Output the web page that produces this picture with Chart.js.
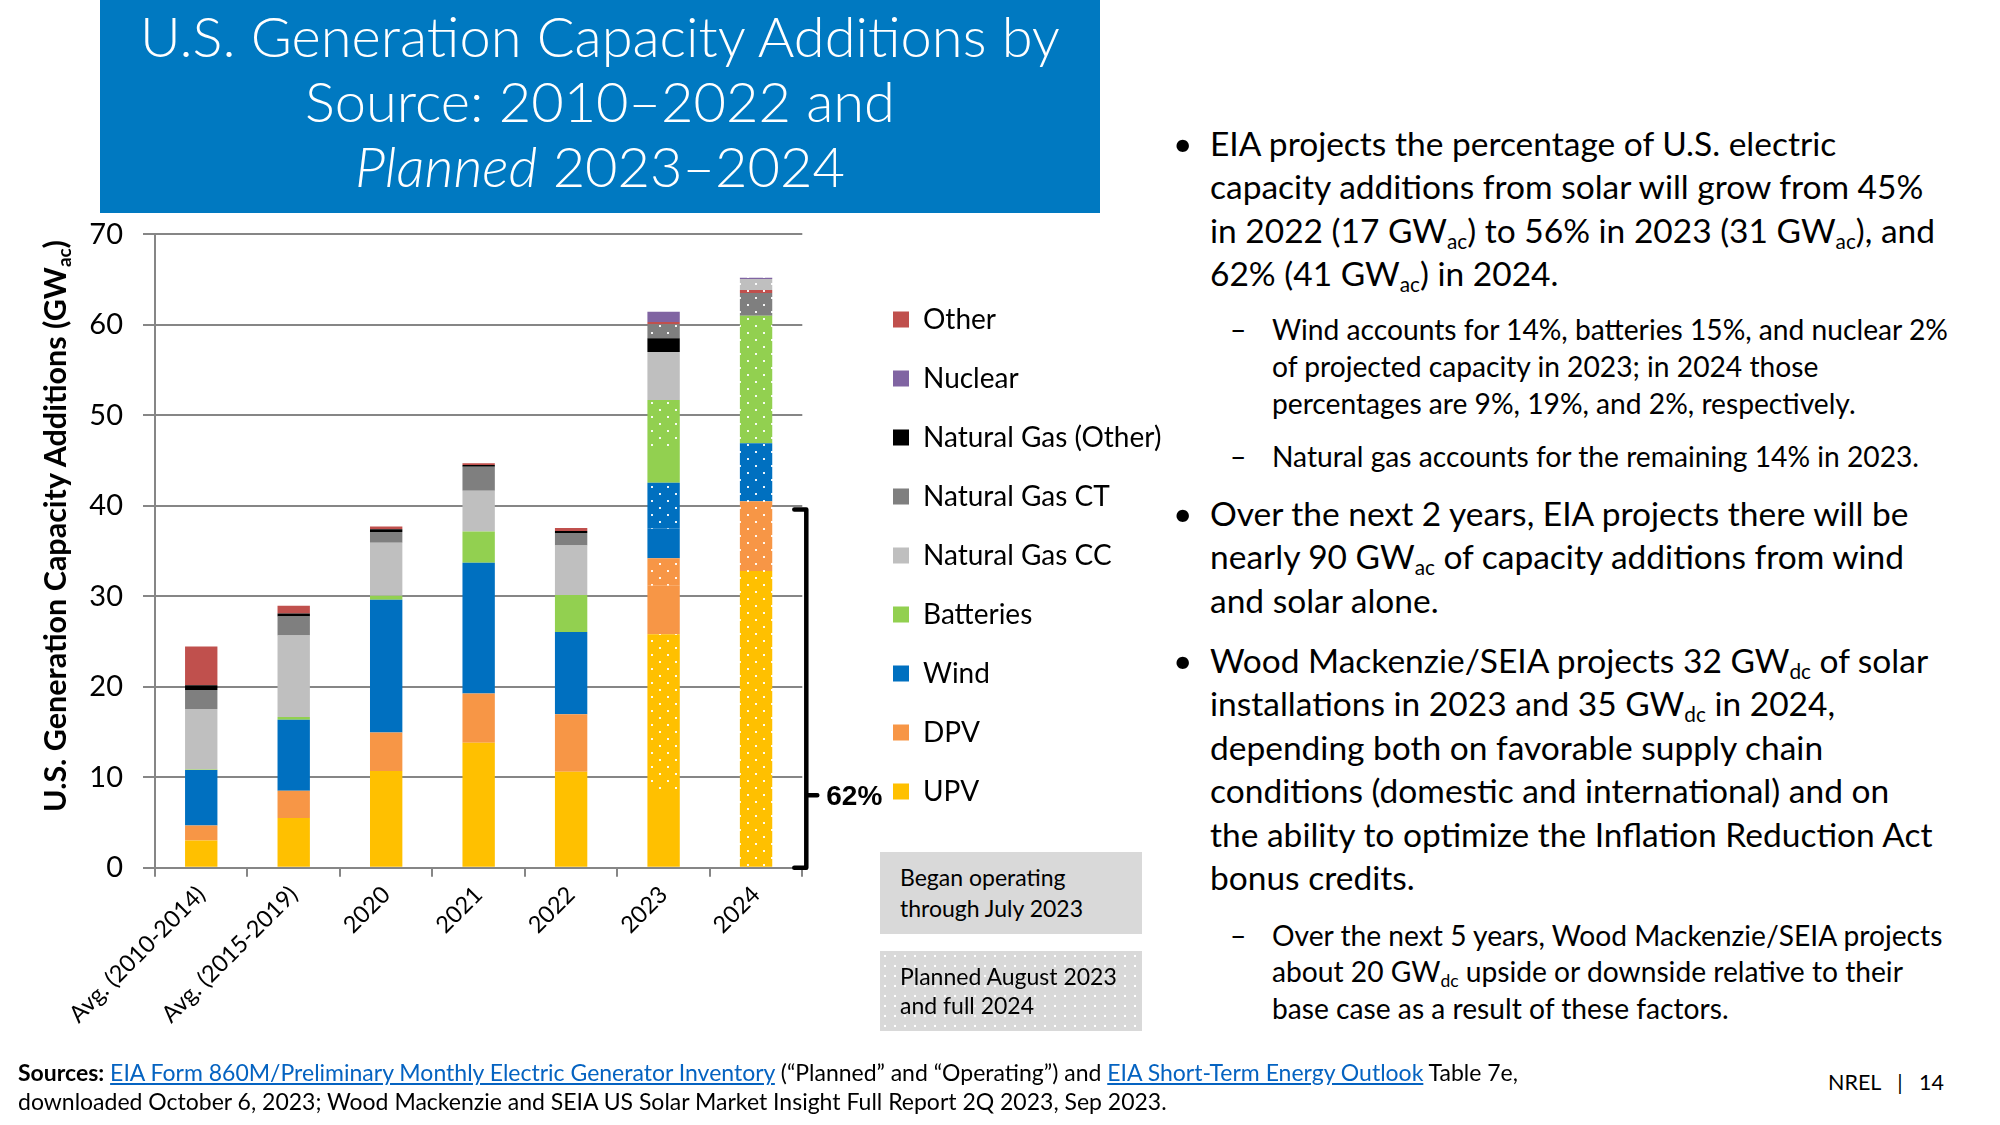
<!DOCTYPE html>
<html><head><meta charset="utf-8">
<script src="https://cdn.jsdelivr.net/npm/chart.js@4.4.0/dist/chart.umd.min.js"></script>
<style>
html,body{margin:0;padding:0;background:#fff;}
body{width:2000px;height:1125px;position:relative;overflow:hidden;font-family:Lato,"Open Sans",sans-serif;color:#000;}
#titlebox{position:absolute;left:100px;top:0;width:1000px;height:213px;background:#0079C1;color:#fff;}
#titlebox .t{position:absolute;left:0;top:3px;width:100%;text-align:center;font-weight:300;font-size:56px;line-height:65px;white-space:nowrap;}
#chartwrap{position:absolute;left:0;top:0;width:1200px;height:1125px;}
#ytitle{position:absolute;left:-296px;top:506px;width:700px;height:40px;line-height:40px;text-align:center;transform:rotate(-90deg);font-weight:bold;font-size:30.5px;white-space:nowrap;}
sub{font-size:0.62em;vertical-align:-0.28em;line-height:0;}
.p{position:absolute;white-space:nowrap;}
.b1{font-size:33.5px;line-height:43.4px;left:1210px;}
.s1{font-size:28.2px;line-height:37px;left:1272px;}
.bul{position:absolute;left:-37px;top:0;}
.dash{position:absolute;left:-42px;top:0;}
.box{position:absolute;left:880px;width:262px;font-size:23px;background:#D9D9D9;}
.box .tx{position:absolute;left:20px;white-space:nowrap;}
#box2{background-color:#D9D9D9;background-image:radial-gradient(circle,#ffffff 1.1px,rgba(255,255,255,0) 1.6px);background-size:10px 10px;}
#src{position:absolute;left:18px;top:1058px;font-size:23px;line-height:29px;white-space:nowrap;}
#src a{color:#0563C1;text-decoration:underline;}
#pg{position:absolute;left:1828px;top:1068px;font-size:21.5px;line-height:28px;white-space:nowrap;}
</style></head>
<body>
<div id="titlebox"><div class="t">U.S. Generation Capacity Additions by<br>Source: 2010–2022 and<br><i>Planned</i> 2023–2024</div></div>
<div id="chartwrap"><canvas id="c"></canvas></div>
<div id="ytitle">U.S. Generation Capacity Additions (GW<sub>ac</sub>)</div>

<div class="p b1" style="top:122px"><span class="bul">•</span>EIA projects the percentage of U.S. electric<br>capacity additions from solar will grow from 45%<br>in 2022 (17 GW<sub>ac</sub>) to 56% in 2023 (31 GW<sub>ac</sub>), and<br>62% (41 GW<sub>ac</sub>) in 2024.</div>
<div class="p s1" style="top:311px"><span class="dash">–</span>Wind accounts for 14%, batteries 15%, and nuclear 2%<br>of projected capacity in 2023; in 2024 those<br>percentages are 9%, 19%, and 2%, respectively.</div>
<div class="p s1" style="top:438px"><span class="dash">–</span>Natural gas accounts for the remaining 14% in 2023.</div>
<div class="p b1" style="top:492px"><span class="bul">•</span>Over the next 2 years, EIA projects there will be<br>nearly 90 GW<sub>ac</sub> of capacity additions from wind<br>and solar alone.</div>
<div class="p b1" style="top:639px"><span class="bul">•</span>Wood Mackenzie/SEIA projects 32 GW<sub>dc</sub> of solar<br>installations in 2023 and 35 GW<sub>dc</sub> in 2024,<br>depending both on favorable supply chain<br>conditions (domestic and international) and on<br>the ability to optimize the Inflation Reduction Act<br>bonus credits.</div>
<div class="p s1" style="top:917px;line-height:36.3px"><span class="dash">–</span>Over the next 5 years, Wood Mackenzie/SEIA projects<br>about 20 GW<sub>dc</sub> upside or downside relative to their<br>base case as a result of these factors.</div>

<div class="box" id="box1" style="top:852px;height:82px;"><div class="tx" style="top:10px;line-height:30.5px">Began operating<br>through July 2023</div></div>
<div class="box" id="box2" style="top:951px;height:80px;"><div class="tx" style="top:11px;line-height:29px">Planned August 2023<br>and full 2024</div></div>

<div id="src"><b>Sources:</b> <a>EIA Form 860M/Preliminary Monthly Electric Generator Inventory</a> (“Planned” and “Operating”) and <a>EIA Short-Term Energy Outlook</a> Table 7e,<br>downloaded October 6, 2023; Wood Mackenzie and SEIA US Solar Market Insight Full Report 2Q 2023, Sep 2023.</div>
<div id="pg">NREL &nbsp;&nbsp;|&nbsp;&nbsp; 14</div>

<script>
// ---- data (GWac) ----
const categories = ['Avg. (2010-2014)','Avg. (2015-2019)','2020','2021','2022','2023','2024'];
// operating (solid) and planned (dotted) values
const upvOp      = [3.0, 5.5, 10.7, 13.8, 10.6, 8.7, 0];
const upvPlan    = [0, 0, 0, 0, 0, 17.1, 32.8];
const dpvOp      = [1.65, 3.0, 4.25, 5.45, 6.35, 5.35, 0];
const dpvPlan    = [0, 0, 0, 0, 0, 3.05, 7.7];
const windOp     = [6.15, 7.85, 14.65, 14.45, 9.1, 3.25, 0];
const windPlan   = [0, 0, 0, 0, 0, 5.1, 6.4];
const battOp     = [0.05, 0.3, 0.45, 3.45, 4.1, 3.95, 0];
const battPlan   = [0, 0, 0, 0, 0, 5.2, 14.1];
const ngccOp     = [6.7, 9.0, 5.85, 4.5, 5.45, 5.3, 0];
const ngctOp     = [2.1, 2.1, 1.2, 2.65, 1.4, 0, 0];
const ngOtherOp  = [0.5, 0.35, 0.3, 0.2, 0.2, 1.5, 0];
const ngctPlan   = [0, 0, 0, 0, 0, 1.55, 2.5];
const otherOp    = [4.3, 0.85, 0.3, 0.2, 0.35, 0.25, 0];
const otherPlan  = [0, 0, 0, 0, 0, 0, 0.35];
const ngccPlan   = [0, 0, 0, 0, 0, 0, 1.2];
const nuclearOp  = [0, 0, 0, 0, 0, 1.15, 0];
const nuclearPlan= [0, 0, 0, 0, 0, 0, 0.15];
const legendNames = ['Other','Nuclear','Natural Gas (Other)','Natural Gas CT','Natural Gas CC','Batteries','Wind','DPV','UPV'];
const yTicksMax = 70, yTickStep = 10;
const bracketTop = 39.6, bracketLabelAt = 8.0, bracketLabel = '62%';

// ---- styles ----
const COL = {UPV:'#FFC000', DPV:'#F79646', Wind:'#0070C0', Batteries:'#92D050', 'Natural Gas CC':'#BFBFBF',
  'Natural Gas CT':'#7F7F7F', 'Natural Gas (Other)':'#000000', Other:'#C0504D', Nuclear:'#8064A2'};
const FONT = 'Lato';

const canvas = document.getElementById('c');
const ctx = canvas.getContext('2d');
function dotted(color){
  const p = document.createElement('canvas'); p.width = 16; p.height = 14;
  const g = p.getContext('2d');
  g.fillStyle = color; g.fillRect(0,0,16,14);
  g.fillStyle = 'rgba(255,255,255,0.92)';
  g.fillRect(3,3,2,2); g.fillRect(11,10,2,2);
  return ctx.createPattern(p,'repeat');
}
function ds(label, data, key, planned){
  return {label, data, backgroundColor: planned ? dotted(COL[key]) : COL[key], borderWidth:0,
          categoryPercentage:1.0, barPercentage:0.35, _key:key};
}
const datasets = [
  ds('UPV (operating)', upvOp, 'UPV', false),
  ds('UPV (planned)', upvPlan, 'UPV', true),
  ds('DPV (operating)', dpvOp, 'DPV', false),
  ds('DPV (planned)', dpvPlan, 'DPV', true),
  ds('Wind (operating)', windOp, 'Wind', false),
  ds('Wind (planned)', windPlan, 'Wind', true),
  ds('Batteries (operating)', battOp, 'Batteries', false),
  ds('Batteries (planned)', battPlan, 'Batteries', true),
  ds('Natural Gas CC (operating)', ngccOp, 'Natural Gas CC', false),
  ds('Natural Gas CT (operating)', ngctOp, 'Natural Gas CT', false),
  ds('Natural Gas (Other) (operating)', ngOtherOp, 'Natural Gas (Other)', false),
  ds('Natural Gas CT (planned)', ngctPlan, 'Natural Gas CT', true),
  ds('Other (operating)', otherOp, 'Other', false),
  ds('Other (planned)', otherPlan, 'Other', true),
  ds('Natural Gas CC (planned)', ngccPlan, 'Natural Gas CC', true),
  ds('Nuclear (operating)', nuclearOp, 'Nuclear', false),
  ds('Nuclear (planned)', nuclearPlan, 'Nuclear', true)
];

const CW = 1200, PLOT_TOP = 234.3, PLOT_BOTTOM = 867.7, PLOT_RIGHT = 802.3, Y_W = 155;
const LEGEND_W = CW - PLOT_RIGHT, LEGEND_LEFT = 862, LEGEND_TOP = 274.5;

const helper = {
  id:'slideHelper',
  afterInit(chart){
    const lg = chart.legend;
    if (lg) { const orig = lg.fit.bind(lg); lg.fit = function(){ orig(); this.width = LEGEND_W; }; }
  },
  afterLayout(chart){
    const lg = chart.legend;
    if (!lg) return;
    const w = lg.width;
    lg.left = LEGEND_LEFT; lg.right = LEGEND_LEFT + w;
    lg.top = LEGEND_TOP; lg.bottom = LEGEND_TOP + 800; lg.height = 800;
  },
  afterDatasetsDraw(chart){
    const y = chart.scales.y, a = chart.chartArea, c = chart.ctx;
    const y0 = y.getPixelForValue(0), yT = y.getPixelForValue(bracketTop), yM = y.getPixelForValue(bracketLabelAt);
    const x = a.right + 4;
    c.save();
    c.strokeStyle = '#000'; c.lineWidth = 4.5; c.lineJoin = 'round'; c.lineCap = 'round';
    c.beginPath();
    c.moveTo(x - 12, yT); c.lineTo(x, yT); c.lineTo(x, y0); c.lineTo(x - 12, y0);
    c.moveTo(x, yM); c.lineTo(x + 11, yM);
    c.stroke();
    c.fillStyle = '#000'; c.font = 'bold 28px "Liberation Sans", Arial, sans-serif';
    c.textBaseline = 'middle'; c.textAlign = 'left';
    c.fillText(bracketLabel, x + 20, yM + 2);
    c.restore();
  }
};

new Chart(canvas, {
  type:'bar',
  data:{labels:categories, datasets},
  options:{
    responsive:true, maintainAspectRatio:false, animation:false,
    layout:{padding:{top:PLOT_TOP, left:0, right:0, bottom:0}},
    plugins:{
      tooltip:{enabled:false},
      legend:{
        position:'right', align:'start',
        labels:{
          boxWidth:16, boxHeight:16, padding:31, color:'#000',
          font:{family:FONT, size:28},
          generateLabels(chart){
            return legendNames.map(n => {
              const i = chart.data.datasets.findIndex(d => d._key === n);
              return {text:n, fillStyle:COL[n], strokeStyle:COL[n], lineWidth:0, hidden:false, datasetIndex:i};
            });
          }
        }
      }
    },
    scales:{
      x:{
        stacked:true,
        grid:{offset:true, drawOnChartArea:false, drawTicks:true, tickLength:9, color:'#868686', lineWidth:2},
        border:{color:'#868686', width:2},
        ticks:{minRotation:45, maxRotation:45, autoSkip:false, color:'#000', font:{family:FONT, size:23.5}, padding:4},
        afterFit(s){ s.height = 1125 - PLOT_BOTTOM; }
      },
      y:{
        stacked:true, min:0, max:yTicksMax,
        ticks:{stepSize:yTickStep, color:'#000', font:{family:FONT, size:29}, padding:20},
        grid:{color:'#868686', lineWidth:2, tickLength:12},
        border:{color:'#868686', width:2},
        afterFit(s){ s.width = Y_W; }
      }
    }
  },
  plugins:[helper]
});
</script>
</body></html>
